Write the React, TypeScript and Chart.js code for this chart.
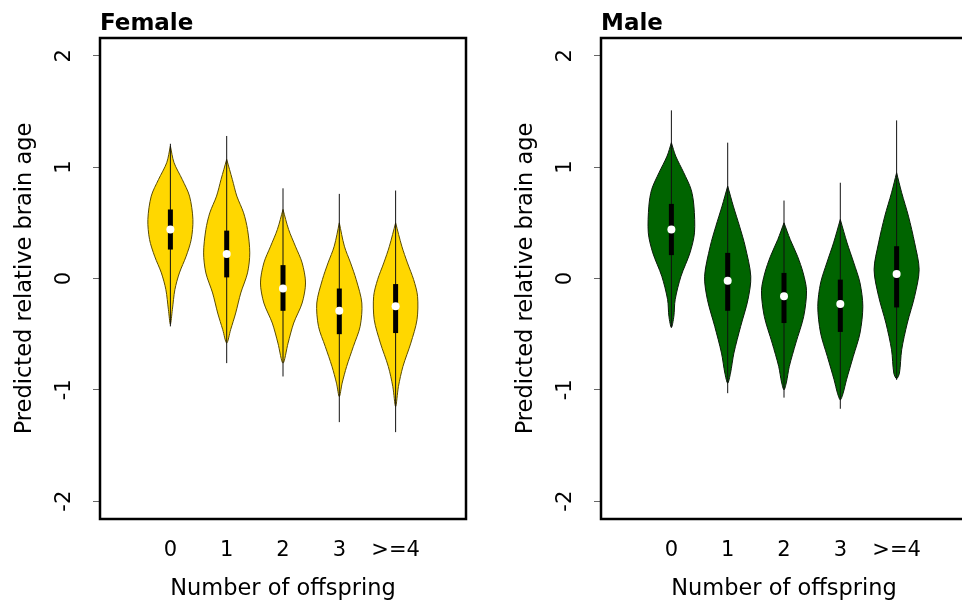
import React, { useEffect, useRef } from 'react';
import { Chart, registerables } from 'chart.js';

Chart.register(...registerables);

const FONT = "'DejaVu Sans', sans-serif";

// ---- Data ----
const categories = ['0', '1', '2', '3', '>=4'];
const yTicks = [-2, -1, 0, 1, 2];

// Female summary stats
const femaleMedian = [0.44, 0.22, -0.09, -0.29, -0.25];
const femaleQ1 = [0.26, 0.01, -0.29, -0.5, -0.49];
const femaleQ3 = [0.62, 0.43, 0.12, -0.09, -0.05];
const femaleMin = [-0.43, -0.76, -0.88, -1.29, -1.38];
const femaleMax = [1.21, 1.28, 0.81, 0.76, 0.79];

// Female density outlines: [value, half-width]
const female0Density = [[1.19, 0], [1.04, 0.065], [0.89, 0.21], [0.74, 0.34], [0.53, 0.4], [0.35, 0.37], [0.2, 0.28], [0.05, 0.16], [-0.1, 0.08], [-0.28, 0.035], [-0.41, 0]];
const female1Density = [[1.07, 0], [0.89, 0.1], [0.74, 0.18], [0.59, 0.3], [0.44, 0.37], [0.23, 0.41], [0.05, 0.37], [-0.13, 0.25], [-0.31, 0.16], [-0.46, 0.07], [-0.58, 0]];
const female2Density = [[0.62, 0], [0.44, 0.1], [0.29, 0.22], [0.14, 0.34], [-0.04, 0.4], [-0.22, 0.34], [-0.4, 0.19], [-0.58, 0.09], [-0.76, 0]];
const female3Density = [[0.5, 0], [0.29, 0.09], [0.14, 0.2], [-0.01, 0.3], [-0.22, 0.4], [-0.43, 0.37], [-0.61, 0.25], [-0.79, 0.13], [-0.94, 0.05], [-1.06, 0]];
const female4Density = [[0.5, 0], [0.29, 0.11], [0.14, 0.21], [-0.01, 0.32], [-0.16, 0.39], [-0.37, 0.38], [-0.58, 0.27], [-0.79, 0.13], [-0.97, 0.05], [-1.15, 0]];

// Male summary stats
const maleMedian = [0.44, -0.02, -0.16, -0.23, 0.04];
const maleQ1 = [0.21, -0.29, -0.4, -0.48, -0.26];
const maleQ3 = [0.67, 0.23, 0.05, -0.01, 0.29];
const maleMin = [-0.44, -1.03, -1.07, -1.17, -0.91];
const maleMax = [1.51, 1.22, 0.7, 0.86, 1.42];

// Male density outlines: [value, half-width]
const male0Density = [[1.22, 0], [1.1, 0.076], [0.95, 0.22], [0.8, 0.35], [0.65, 0.4], [0.41, 0.41], [0.23, 0.33], [0.02, 0.17], [-0.19, 0.067], [-0.34, 0.044], [-0.44, 0]];
const male1Density = [[0.83, 0], [0.65, 0.1], [0.47, 0.21], [0.29, 0.31], [0.02, 0.41], [-0.19, 0.36], [-0.43, 0.23], [-0.67, 0.11], [-0.85, 0.05], [-0.94, 0]];
const male2Density = [[0.5, 0], [0.35, 0.11], [0.2, 0.24], [0.05, 0.34], [-0.11, 0.4], [-0.34, 0.35], [-0.58, 0.21], [-0.79, 0.094], [-0.93, 0.044], [-1.0, 0]];
const male3Density = [[0.53, 0], [0.32, 0.12], [0.14, 0.24], [-0.04, 0.35], [-0.25, 0.4], [-0.49, 0.35], [-0.7, 0.23], [-0.91, 0.11], [-1.03, 0.05], [-1.09, 0]];
const male4Density = [[0.95, 0], [0.77, 0.09], [0.56, 0.21], [0.32, 0.32], [0.08, 0.4], [-0.16, 0.32], [-0.4, 0.19], [-0.64, 0.09], [-0.85, 0.05], [-0.9, 0]];

const femaleDensities = [female0Density, female1Density, female2Density, female3Density, female4Density];
const maleDensities = [male0Density, male1Density, male2Density, male3Density, male4Density];

// ---- Chart helpers ----
const boxPlugin = {
  id: 'frameBox',
  afterDraw(chart: any) {
    const { ctx, chartArea: a } = chart;
    ctx.save();
    ctx.strokeStyle = '#000';
    ctx.lineWidth = 2.5;
    ctx.strokeRect(a.left, a.top, a.right - a.left, a.bottom - a.top);
    ctx.restore();
  },
};

function buildConfig(
  title: string,
  fillColor: string,
  outline: string,
  medians: number[],
  q1s: number[],
  q3s: number[],
  mins: number[],
  maxs: number[],
  densities: number[][][]
): any {
  const datasets: any[] = [];
  categories.forEach((_, i) => {
    const cx = i + 1;
    const prof = densities[i];
    const right = prof.map(([y, w]) => ({ x: cx + w, y }));
    const left = prof
      .slice(1, -1)
      .reverse()
      .map(([y, w]) => ({ x: cx - w, y }));
    const shape = [...right, ...left, right[0]];
    datasets.push({
      data: shape,
      showLine: true,
      fill: 'shape',
      backgroundColor: fillColor,
      borderColor: outline,
      borderWidth: 1,
      pointRadius: 0,
      pointHoverRadius: 0,
      tension: 0.3,
      order: 4,
    });
    datasets.push({
      data: [
        { x: cx, y: mins[i] },
        { x: cx, y: maxs[i] },
      ],
      showLine: true,
      fill: false,
      borderColor: '#111',
      borderWidth: 1,
      pointRadius: 0,
      pointHoverRadius: 0,
      order: 3,
    });
    datasets.push({
      data: [
        { x: cx, y: q1s[i] },
        { x: cx, y: q3s[i] },
      ],
      showLine: true,
      fill: false,
      borderColor: '#000',
      borderWidth: 5,
      borderCapStyle: 'butt',
      pointRadius: 0,
      pointHoverRadius: 0,
      order: 2,
    });
    datasets.push({
      data: [{ x: cx, y: medians[i] }],
      showLine: false,
      pointRadius: 4,
      pointHoverRadius: 4,
      pointBackgroundColor: '#fff',
      pointBorderWidth: 0,
      order: 1,
    });
  });

  return {
    type: 'scatter',
    data: { datasets },
    plugins: [boxPlugin],
    options: {
      responsive: false,
      animation: false,
      events: [],
      layout: { padding: { left: 0, right: 15, top: 0, bottom: 0 } },
      plugins: {
        legend: { display: false },
        tooltip: { enabled: false },
        title: {
          display: true,
          text: title,
          align: 'start',
          fullSize: false,
          color: '#000',
          font: { family: FONT, size: 23, weight: 'bold' },
          padding: { top: 10, bottom: 0.4 },
        },
      },
      scales: {
        x: {
          type: 'linear',
          min: -0.25,
          max: 6.25,
          afterBuildTicks: (s: any) => {
            s.ticks = categories.map((_, i) => ({ value: i + 1 }));
          },
          afterFit: (s: any) => {
            s.height = 85;
          },
          ticks: {
            callback: (_v: any, idx: number) => categories[idx],
            autoSkip: false,
            maxRotation: 0,
            minRotation: 0,
            padding: 19,
            color: '#000',
            font: { family: FONT, size: 21 },
          },
          grid: { display: false, drawTicks: false },
          border: { display: false },
          title: {
            display: true,
            text: 'Number of offspring',
            color: '#000',
            font: { family: FONT, size: 22.5 },
            padding: { top: 0, bottom: 1.6 },
          },
        },
        y: {
          type: 'linear',
          min: -2.16,
          max: 2.16,
          afterBuildTicks: (s: any) => {
            s.ticks = yTicks.map((v) => ({ value: v }));
          },
          afterFit: (s: any) => {
            s.width = 100;
          },
          ticks: {
            callback: (v: any) => String(v),
            minRotation: 90,
            maxRotation: 90,
            crossAlign: 'center',
            padding: 17.5,
            color: '#000',
            font: { family: FONT, size: 21 },
          },
          grid: {
            display: true,
            drawOnChartArea: false,
            drawTicks: true,
            tickLength: 7,
            color: '#666',
            lineWidth: 1,
          },
          border: { display: false },
          title: {
            display: true,
            text: 'Predicted relative brain age',
            color: '#000',
            font: { family: FONT, size: 22.5 },
            padding: { top: 12, bottom: 0 },
          },
        },
      },
    },
  };
}

function Panel({ left, config }: { left: number; config: () => any }) {
  const ref = useRef<HTMLCanvasElement | null>(null);
  useEffect(() => {
    if (!ref.current) return;
    const chart = new Chart(ref.current, config());
    return () => chart.destroy();
  }, []);
  return (
    <canvas
      ref={ref}
      width={481}
      height={604}
      style={{ position: 'absolute', left, top: 0, width: 481, height: 604 }}
    />
  );
}

export default function App() {
  return (
    <div
      style={{
        position: 'fixed',
        left: 0,
        top: 0,
        width: 962,
        height: 604,
        overflow: 'hidden',
        background: '#fff',
      }}
    >
      <Panel
        left={0}
        config={() =>
          buildConfig('Female', '#FFD700', '#5a4b00', femaleMedian, femaleQ1, femaleQ3, femaleMin, femaleMax, femaleDensities)
        }
      />
      <Panel
        left={501}
        config={() =>
          buildConfig('Male', '#006400', '#0a1a0a', maleMedian, maleQ1, maleQ3, maleMin, maleMax, maleDensities)
        }
      />
    </div>
  );
}
